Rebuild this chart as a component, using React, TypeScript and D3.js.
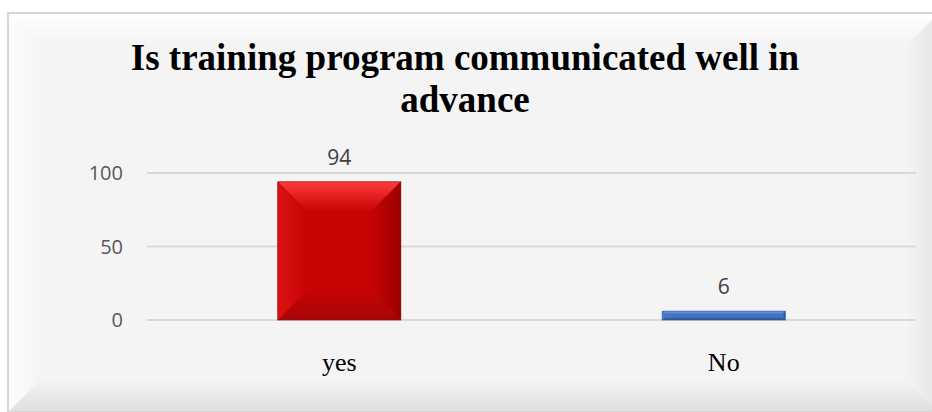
import React from 'react';
import * as d3 from 'd3';

const categories: string[] = ['yes', 'No'];
const values: number[] = [94, 6];
const yTicks: number[] = [0, 50, 100];
const titleLines: string[] = ['Is training program communicated well in', 'advance'];

type Pal = { center: string; top: string; left: string; right: string; bottom: string; stroke: string };
const palettes: Pal[] = [
  { center: '#c70303', top: '#ff3a3a', left: '#dc1212', right: '#9c0000', bottom: '#a60606', stroke: '#8b0000' },
  { center: '#4472c4', top: '#7aa0e8', left: '#5d88d8', right: '#2f5597', bottom: '#2c5190', stroke: '#2f528f' },
];

function Bevel({ id, x0, y0, x1, y1, b, pal }: { id: string; x0: number; y0: number; x1: number; y1: number; b: number; pal: Pal }) {
  const pts = (a: number[][]) => a.map((p) => p.join(',')).join(' ');
  return (
    <g>
      <defs>
        <linearGradient id={`${id}-t`} gradientUnits="userSpaceOnUse" x1={0} y1={y0} x2={0} y2={y0 + b}>
          <stop offset="0" stopColor={pal.top} />
          <stop offset="1" stopColor={pal.center} />
        </linearGradient>
        <linearGradient id={`${id}-b`} gradientUnits="userSpaceOnUse" x1={0} y1={y1} x2={0} y2={y1 - b}>
          <stop offset="0" stopColor={pal.bottom} />
          <stop offset="1" stopColor={pal.center} />
        </linearGradient>
        <linearGradient id={`${id}-l`} gradientUnits="userSpaceOnUse" x1={x0} y1={0} x2={x0 + b} y2={0}>
          <stop offset="0" stopColor={pal.left} />
          <stop offset="1" stopColor={pal.center} />
        </linearGradient>
        <linearGradient id={`${id}-r`} gradientUnits="userSpaceOnUse" x1={x1} y1={0} x2={x1 - b} y2={0}>
          <stop offset="0" stopColor={pal.right} />
          <stop offset="1" stopColor={pal.center} />
        </linearGradient>
      </defs>
      <rect x={x0} y={y0} width={x1 - x0} height={y1 - y0} fill={pal.center} />
      <polygon points={pts([[x0, y0], [x1, y0], [x1 - b, y0 + b], [x0 + b, y0 + b]])} fill={`url(#${id}-t)`} />
      <polygon points={pts([[x0, y1], [x1, y1], [x1 - b, y1 - b], [x0 + b, y1 - b]])} fill={`url(#${id}-b)`} />
      <polygon points={pts([[x0, y0], [x0 + b, y0 + b], [x0 + b, y1 - b], [x0, y1]])} fill={`url(#${id}-l)`} />
      <polygon points={pts([[x1, y0], [x1 - b, y0 + b], [x1 - b, y1 - b], [x1, y1]])} fill={`url(#${id}-r)`} />
      <rect x={x0} y={y0} width={x1 - x0} height={y1 - y0} fill="none" stroke={pal.stroke} strokeOpacity={0.6} strokeWidth={1} />
    </g>
  );
}

export default function App() {
  const W = 932;
  const H = 412;
  const plot = { left: 147, right: 916, top: 173, bottom: 320 };
  const x = d3.scaleBand<string>().domain(categories).range([plot.left, plot.right]).paddingInner(0.68).paddingOuter(0.34);
  const y = d3.scaleLinear().domain([0, 100]).range([plot.bottom, plot.top]);
  const frame = { x0: 8, y0: 13, x1: 939, y1: 412, b: 32 };
  const framePal: Pal = { center: '#f4f4f4', top: '#ffffff', left: '#fdfdfd', right: '#e4e4e4', bottom: '#dedede', stroke: '#d9d9d9' };

  return (
    <svg width={W} height={H} style={{ position: 'absolute', left: 0, top: 0 }}>
      <rect x={0} y={0} width={W} height={H} fill="#ffffff" />
      <Bevel id="frame" x0={frame.x0} y0={frame.y0} x1={frame.x1} y1={frame.y1} b={frame.b} pal={framePal} />
      <rect x={frame.x0} y={frame.y0} width={frame.x1 - frame.x0} height={frame.y1 - frame.y0} fill="none" stroke="#d6d6d6" strokeWidth={2} />

      <text textAnchor="middle" fontFamily="'Liberation Serif', 'Times New Roman', serif" fontWeight="bold" fontSize={37} fill="#000">
        {titleLines.map((t, i) => (
          <tspan key={i} x={465} y={70 + i * 42}>{t}</tspan>
        ))}
      </text>

      {yTicks.map((t) => (
        <g key={t}>
          <line x1={plot.left} x2={plot.right} y1={y(t)} y2={y(t)} stroke="#d9d9d9" strokeWidth={2} />
          <text x={123} y={y(t)} dy="0.36em" textAnchor="end" fontFamily="'Open Sans', sans-serif" fontSize={20} fill="#595959">{t}</text>
        </g>
      ))}

      {categories.map((c, i) => {
        const x0 = x(c)!;
        const x1 = x0 + x.bandwidth();
        const y0 = y(values[i]);
        const y1 = y(0);
        const b = Math.min(30, (y1 - y0) * 0.35, (x1 - x0) * 0.35);
        return (
          <g key={c}>
            <Bevel id={`bar${i}`} x0={x0} y0={y0} x1={x1} y1={y1} b={b} pal={palettes[i]} />
            <text x={(x0 + x1) / 2} y={y0 - 17} textAnchor="middle" fontFamily="'Open Sans', sans-serif" fontSize={21} fill="#404040">{values[i]}</text>
            <text x={(x0 + x1) / 2} y={371} textAnchor="middle" fontFamily="'Liberation Serif', 'Times New Roman', serif" fontSize={26} fill="#000">{c}</text>
          </g>
        );
      })}
    </svg>
  );
}
